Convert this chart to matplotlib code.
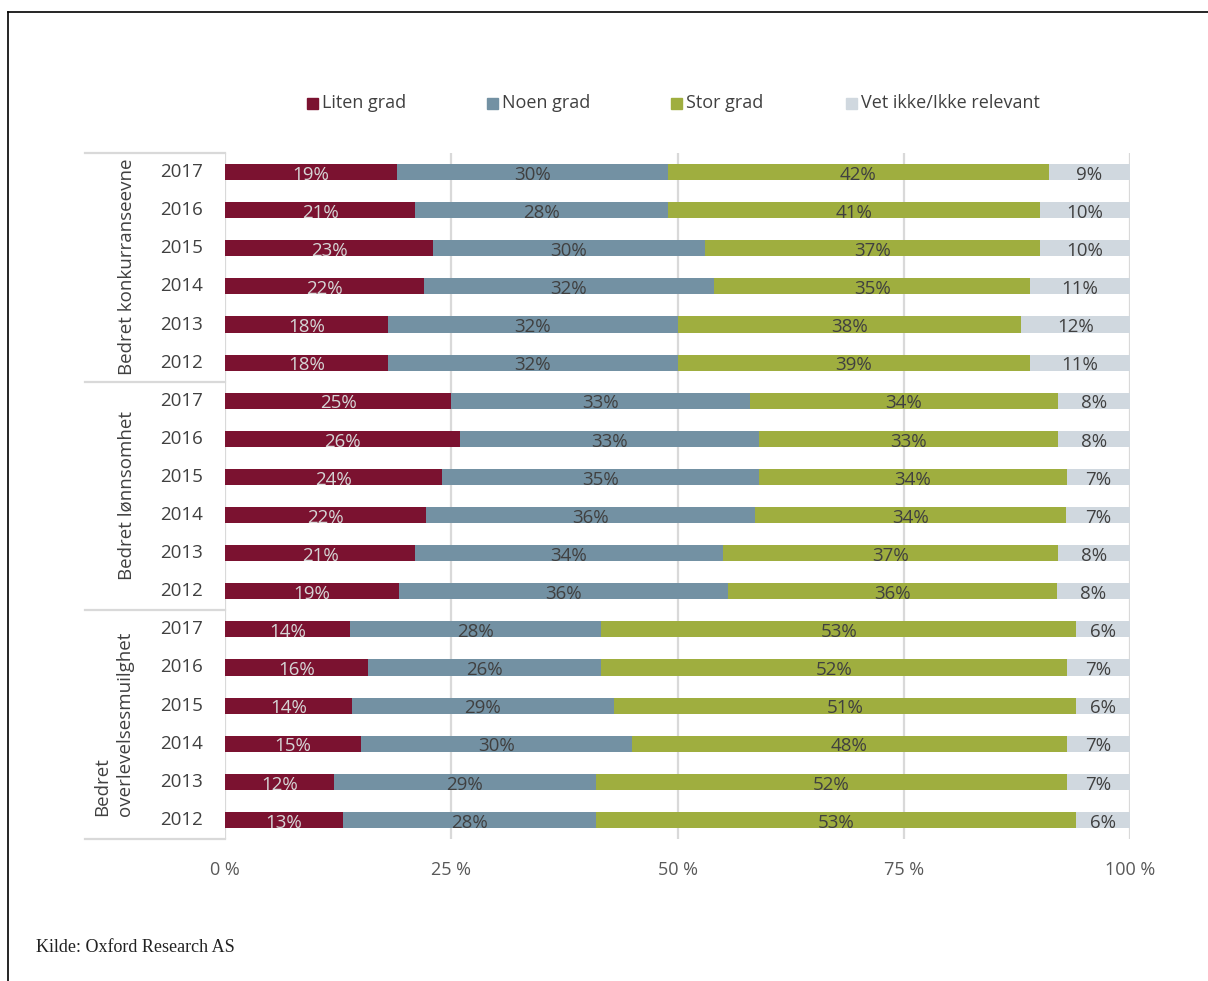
import matplotlib
matplotlib.use("Agg")
import matplotlib.pyplot as plt
from matplotlib.lines import Line2D
from matplotlib.patches import Rectangle
import numpy as np

plt.rcParams['font.family'] = ['Open Sans', 'DejaVu Sans']

# ---- data -------------------------------------------------------------
groups = ["Bedret konkurranseevne", "Bedret lønnsomhet",
          "Bedret\noverlevelsesmuilghet"]
years = ["2017", "2016", "2015", "2014", "2013", "2012"]
series = ["Liten grad", "Noen grad", "Stor grad", "Vet ikke/Ikke relevant"]

liten = [19, 21, 23, 22, 18, 18,
         25, 26, 24, 22, 21, 19,
         14, 16, 14, 15, 12, 13]
noen = [30, 28, 30, 32, 32, 32,
        33, 33, 35, 36, 34, 36,
        28, 26, 29, 30, 29, 28]
stor = [42, 41, 37, 35, 38, 39,
        34, 33, 34, 34, 37, 36,
        53, 52, 51, 48, 52, 53]
vet = [9, 10, 10, 11, 12, 11,
       8, 8, 7, 7, 8, 8,
       6, 7, 6, 7, 7, 6]

tick_values = [0, 25, 50, 75, 100]
tick_labels = ["0 %", "25 %", "50 %", "75 %", "100 %"]

colors = ["#7b1230", "#7391a3", "#9fae3f", "#d0d8df"]
label_colors = ["#d6d6d6", "#404040", "#404040", "#404040"]
grid_color = "#d9d9d9"

# ---- figure -----------------------------------------------------------
W, H = 1208, 981
fig = plt.figure(figsize=(W / 100, H / 100), dpi=100)


def fx(px):
    return px / W


def fy(py):
    return 1 - py / H


ax = fig.add_axes([fx(225), fy(839), fx(1130) - fx(225), fy(153) - fy(839)])

values = np.array([liten, noen, stor, vet], dtype=float)
shares = values / values.sum(axis=0) * 100
n_rows = values.shape[1]
y = np.arange(n_rows)

left = np.zeros(n_rows)
for k in range(4):
    ax.barh(y, shares[k], left=left, height=0.42, color=colors[k],
            zorder=3, linewidth=0)
    for i in range(n_rows):
        cx = left[i] + shares[k][i] / 2
        ax.text(cx, y[i] + 0.07, f"{int(values[k][i])}%", ha="center",
                va="center", fontsize=13.5, color=label_colors[k], zorder=4)
    left += shares[k]

ax.set_xlim(0, 100)
ax.set_ylim(n_rows - 0.5, -0.5)
ax.set_xticks(tick_values)
ax.set_xticklabels(tick_labels)
ax.tick_params(axis="x", length=0, pad=16, labelsize=13, labelcolor="#595959")
ax.set_yticks([])
for s in ax.spines.values():
    s.set_visible(False)
for v in tick_values:
    ax.axvline(v, color=grid_color, lw=1.6, zorder=1)

# year labels
for i in range(n_rows):
    ax.text(-2.4, y[i], years[i % len(years)], ha="right", va="center",
            fontsize=13.5, color="#404040")

# group separators
for g in range(len(groups) + 1):
    yy = fy(153 + g * (839 - 153) / 3)
    fig.add_artist(Line2D([fx(85), fx(225)], [yy, yy], color=grid_color,
                          lw=1.6, transform=fig.transFigure))

# group labels
fig.text(fx(127), fy(267), groups[0], rotation=90, ha="center", va="center",
         fontsize=13.5, color="#404040")
fig.text(fx(127), fy(495), groups[1], rotation=90, ha="center", va="center",
         fontsize=13.5, color="#404040")
fig.text(fx(114), fy(724), groups[2], rotation=90, ha="center", va="center",
         fontsize=13.5, color="#404040", multialignment="left", linespacing=1.35)

# legend
legend_x = [307, 487, 671, 846]
for k, name in enumerate(series):
    fig.add_artist(Rectangle((fx(legend_x[k]), fy(109)), fx(11), fy(98) - fy(109),
                             color=colors[k], transform=fig.transFigure))
    fig.text(fx(legend_x[k] + 15), fy(103), name, ha="left", va="center",
             fontsize=13, color="#404040")

# frame
fig.add_artist(Line2D([fx(8), fx(1208)], [fy(12), fy(12)], color="black",
                      lw=1.2, transform=fig.transFigure))
fig.add_artist(Line2D([fx(8), fx(8)], [fy(12), fy(981)], color="black",
                      lw=1.2, transform=fig.transFigure))

# source
fig.text(fx(36), fy(947), "Kilde: Oxford Research AS", ha="left", va="center",
         fontsize=13, family=["Liberation Serif"], color="#222222")

fig.savefig("out.png", dpi=100)
